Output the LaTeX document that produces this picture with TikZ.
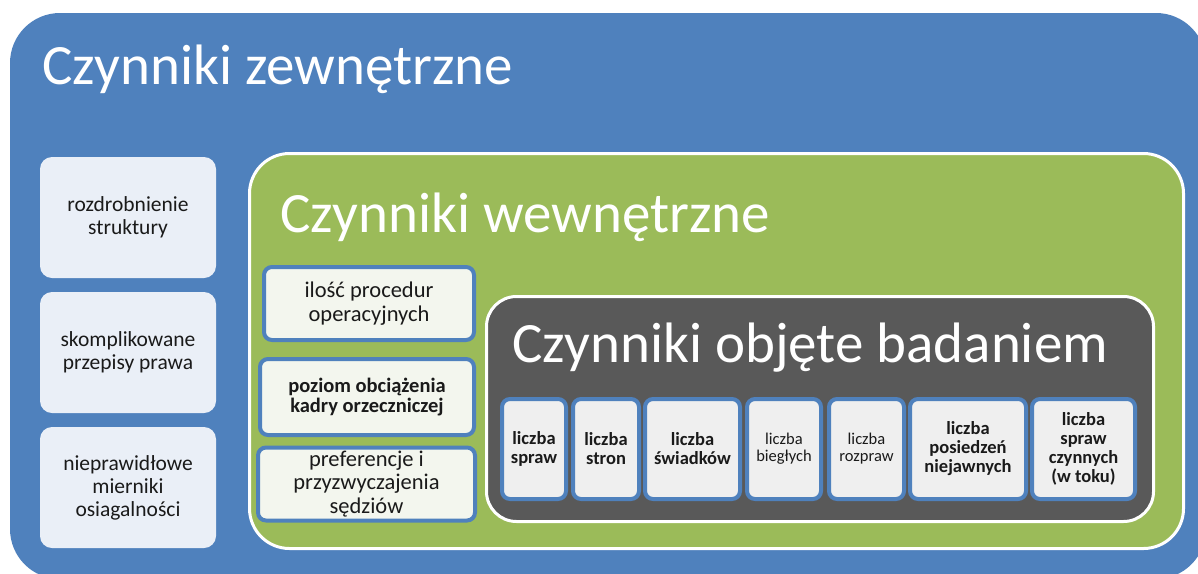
\documentclass[tikz,border=0pt]{standalone}
\usepackage{fontspec}
\setmainfont{Carlito}

\definecolor{niebieski}{HTML}{4F81BD}
\definecolor{zielony}{HTML}{9BBB59}
\definecolor{szary}{HTML}{595959}
\definecolor{jasnyniebieski}{HTML}{EAEFF7}
\definecolor{jasnyzielony}{HTML}{F3F6EE}
\definecolor{jasnyszary}{HTML}{EFEFEF}
\definecolor{tekst}{HTML}{1A1A1A}

\tikzset{
  ramka/.style={rounded corners=#1, inner sep=0pt},
  tytul/.style={anchor=base west, text=white, inner sep=0pt,
    font=\fontsize{57}{60}\selectfont},
  zewnbox/.style={ramka=12pt, fill=jasnyniebieski, text=tekst, align=center,
    minimum width=176pt, minimum height=121pt,
    font=\fontsize{21.5}{23}\selectfont},
  wewnbox/.style={ramka=8pt, fill=jasnyzielony, draw=niebieski, line width=4pt,
    text=tekst, align=center, font=\fontsize{22.5}{23.5}\selectfont},
  badbox/.style={ramka=8pt, fill=jasnyszary, draw=niebieski, line width=4pt,
    text=tekst, align=center, minimum height=100pt,
    font=\fontsize{18.5}{19}\selectfont\bfseries},
  badmaly/.style={badbox, font=\fontsize{16.5}{17}\selectfont}
}

\begin{document}
\begin{tikzpicture}[x=1pt,y=-1pt]
\clip (0,0) rectangle (1198,573);
\fill[white] (0,0) rectangle (1198,573);

% Czynniki zewnetrzne
\node[ramka=50pt, fill=niebieski, minimum width=1196pt, minimum height=566pt]
  (zewn) at (608,296) {};
\node[tytul] (tzewn) at (42,84) {Czynniki zewnętrzne};

\node[zewnbox] (z1) at (128,217.5) {rozdrobnienie\\struktury};
\node[zewnbox] (z2) at (128,352.5) {skomplikowane\\przepisy prawa};
\node[zewnbox] (z3) at (128,487.5) {nieprawidłowe\\mierniki\\osiagalności};

% Czynniki wewnetrzne
\node[ramka=40pt, fill=zielony, draw=white, line width=3pt,
  minimum width=934pt, minimum height=395pt] (wewn) at (716.5,351) {};
\node[tytul] (twewn) at (280,232) {Czynniki wewnętrzne};

\node[wewnbox, minimum width=210pt, minimum height=73pt] (w1) at (369,303.5)
  {ilość procedur\\operacyjnych};
\node[wewnbox, minimum width=214pt, minimum height=76pt,
  font=\fontsize{20.5}{19.5}\selectfont\bfseries] (w2) at (367,397)
  {poziom obciążenia\\kadry orzeczniczej};
\node[wewnbox, minimum width=217pt, minimum height=73pt] (w3) at (366.5,484)
  {preferencje i\\przyzwyczajenia\\sędziów};

% Czynniki objete badaniem
\node[ramka=30pt, fill=szary, draw=white, line width=3pt,
  minimum width=667pt, minimum height=225pt] (bad) at (820,409) {};
\node[tytul] (tbad) at (512,362) {Czynniki objęte badaniem};

\node[badbox, minimum width=64pt] (b1) at (534,449) {liczba\\spraw};
\node[badbox, minimum width=66pt] (b2) at (606,449) {liczba\\stron};
\node[badbox, minimum width=95pt] (b3) at (692.5,449) {liczba\\świadków};
\node[badmaly, minimum width=74pt] (b4) at (784,449) {liczba\\biegłych};
\node[badmaly, minimum width=75pt] (b5) at (866.5,449) {liczba\\rozpraw};
\node[badbox, minimum width=116pt] (b6) at (968,449)
  {liczba\\posiedzeń\\niejawnych};
\node[badbox, minimum width=103pt] (b7) at (1083.5,449)
  {liczba\\spraw\\czynnych\\(w toku)};

\end{tikzpicture}
\end{document}
